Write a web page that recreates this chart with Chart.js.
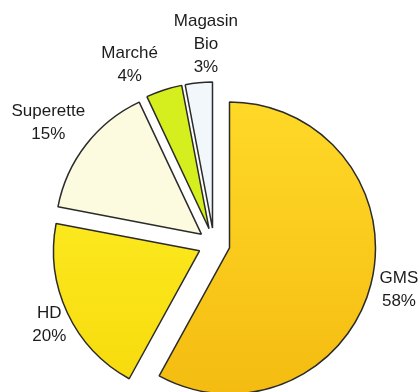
<!DOCTYPE html>
<html>
<head>
<meta charset="utf-8">
<script src="https://cdn.jsdelivr.net/npm/chart.js@4/dist/chart.umd.min.js"></script>
<style>
  html, body { margin: 0; padding: 0; background: #fff; }
  #wrap { width: 420px; height: 392px; position: relative; }
</style>
</head>
<body>
<div id="wrap"><canvas id="pie"></canvas></div>
<script>
// parts de marché par circuit de distribution
var categories = ['GMS', 'HD', 'Superette', 'Marché', 'Magasin Bio'];
var shares = [58, 20, 15, 4, 3];
var labelLines = [['GMS'], ['HD'], ['Superette'], ['Marché'], ['Magasin', 'Bio']];

// decalage des etiquettes (px) par rapport a leur position radiale
var labelNudge = [[-1, -2], [9, -1], [-14, -4], [-25, 3], [10, -9]];

var GAP = 16;      // eclatement des parts
var RADIUS = 146;

// couleurs haut / bas de chaque part
var fillTop = ['#FFD928', '#FFF22A', '#FCFBDF', '#D4EE1E', '#F1F7FB'];
var fillBottom = ['#F4BC10', '#F6DA0C', '#FCFBDF', '#D4EE1E', '#F1F7FB'];

function sliceFill(c) {
	var i = c.dataIndex;
	var area = c.chart.chartArea;
	if (!area || fillTop[i] === fillBottom[i]) return fillTop[i];
	var cy = (area.top + area.bottom) / 2;
	var g = c.chart.ctx.createLinearGradient(0, cy - RADIUS, 0, cy + RADIUS);
	g.addColorStop(0, fillTop[i]);
	g.addColorStop(1, fillBottom[i]);
	return g;
}

// dessine chaque part decalee le long de sa bissectrice
var explode = {
	id: 'explode',
	beforeDatasetDraw: function(chart, args) {
		var ctx = chart.ctx;
		args.meta.data.forEach(function(arc) {
			var mid = (arc.startAngle + arc.endAngle) / 2;
			ctx.save();
			ctx.translate(Math.cos(mid) * GAP, Math.sin(mid) * GAP);
			arc.draw(ctx);
			ctx.restore();
		});
		return false;
	}
};

var pieLabels = {
	id: 'pieLabels',
	afterDatasetsDraw: function(chart) {
		var ctx = chart.ctx;
		var arcs = chart.getDatasetMeta(0).data;
		ctx.save();
		ctx.font = '17px "Liberation Sans", Arial, sans-serif';
		ctx.fillStyle = '#1c1c1c';
		ctx.textAlign = 'center';
		ctx.textBaseline = 'middle';
		arcs.forEach(function(arc, i) {
			var mid = (arc.startAngle + arc.endAngle) / 2;
			var d = arc.outerRadius + GAP + 30;
			var x = arc.x + Math.cos(mid) * d + labelNudge[i][0];
			var y = arc.y + Math.sin(mid) * d + labelNudge[i][1];
			var lines = labelLines[i].concat([shares[i] + '%']);
			var lh = 23;
			var y0 = y - (lines.length - 1) * lh / 2;
			lines.forEach(function(t, k) {
				ctx.fillText(t, x, y0 + k * lh);
			});
		});
		ctx.restore();
	}
};

new Chart(document.getElementById('pie').getContext('2d'), {
	type: 'pie',
	data: {
		labels: categories,
		datasets: [{
			data: shares,
			backgroundColor: sliceFill,
			borderColor: '#2b2b2b',
			borderWidth: 1.5
		}]
	},
	options: {
		responsive: true,
		maintainAspectRatio: false,
		animation: false,
		radius: RADIUS,
		layout: { padding: { left: 8, top: 96, right: 0, bottom: 0 } },
		plugins: {
			legend: { display: false },
			tooltip: { enabled: false }
		},
		events: []
	},
	plugins: [explode, pieLabels]
});
</script>
</body>
</html>
